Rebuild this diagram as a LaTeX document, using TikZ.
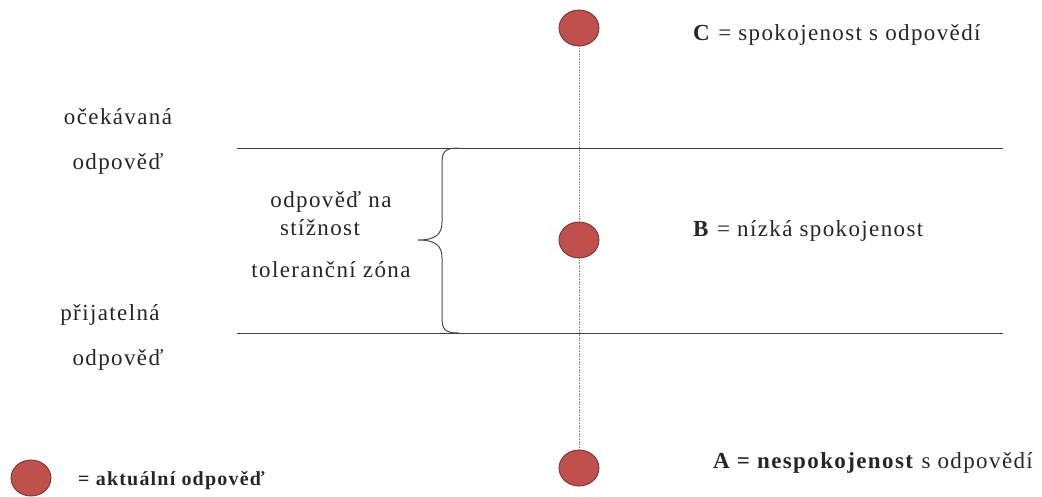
\documentclass[tikz,border=0pt]{standalone}
\usepackage{fontspec}
\setmainfont[LetterSpace=6]{Liberation Serif}
\usetikzlibrary{shapes.geometric}
\begin{document}
\begin{tikzpicture}[x=1pt,y=-1pt,
  dot/.style={ellipse,draw={rgb,255:red,110;green,45;blue,43},line width=0.8pt,fill={rgb,255:red,192;green,80;blue,77},minimum width=40pt,minimum height=36pt,inner sep=0pt},
  lbl/.style={font=\fontsize{23}{26}\selectfont,inner sep=0pt,text=black!85},
  rule/.style={draw=black!75,line width=1pt}]
\useasboundingbox (0,0) rectangle (1042,496);
% horizontal lines
\coordinate (t1) at (237,148);
\coordinate (t2) at (1003,148);
\coordinate (b1) at (237,333);
\coordinate (b2) at (1003,333);
\draw[rule] (t1) -- (t2);
\draw[rule] (b1) -- (b2);
% circles and vertical line
\node[dot] (C) at (579,28) {};
\node[dot] (B) at (579,240) {};
\node[dot] (A) at (579,468) {};
\node[dot] (L) at (31,478) {};
\draw[black!45,line width=0.7pt,dash pattern=on 1pt off 0.6pt] (C) -- (B);
\draw[black!45,line width=0.7pt,dash pattern=on 1pt off 0.6pt] (B) -- (A);
% brace
\coordinate (br1) at (459,148);
\coordinate (br2) at (459,333);
\coordinate (brt) at (418,240);
\draw[black!70,line width=1pt] (br1) .. controls (444,148) and (442,152) .. (442,164)
  -- (442,222) .. controls (442,234) and (436,240) .. (brt)
  .. controls (436,240) and (442,246) .. (442,258)
  -- (442,317) .. controls (442,329) and (444,333) .. (br2);
% left labels
\node[lbl,anchor=base] (l1) at (118,124) {očekávaná};
\node[lbl,anchor=base] (l2) at (118,169) {odpověď};
\node[lbl,anchor=base] (l3) at (110,320) {přijatelná};
\node[lbl,anchor=base] (l4) at (118,365) {odpověď};
% middle labels
\node[lbl,anchor=base] (m1) at (331,207) {odpověď na};
\node[lbl,anchor=base] (m2) at (320,235) {stížnost};
\node[lbl,anchor=base] (m3) at (331,277) {toleranční zóna};
% right labels
\node[lbl,anchor=base west] (cl) at (693,40) {\textbf{C} = spokojenost s odpovědí};
\node[lbl,anchor=base west] (bl) at (693,236) {\textbf{B} = nízká spokojenost};
\node[lbl,anchor=base west] (al) at (713,468) {\textbf{A = nespokojenost} s odpovědí};
\node[lbl,anchor=base west,font=\fontsize{20}{24}\selectfont] (ll) at (78,485) {\textbf{= aktuální odpověď}};
\end{tikzpicture}
\end{document}
